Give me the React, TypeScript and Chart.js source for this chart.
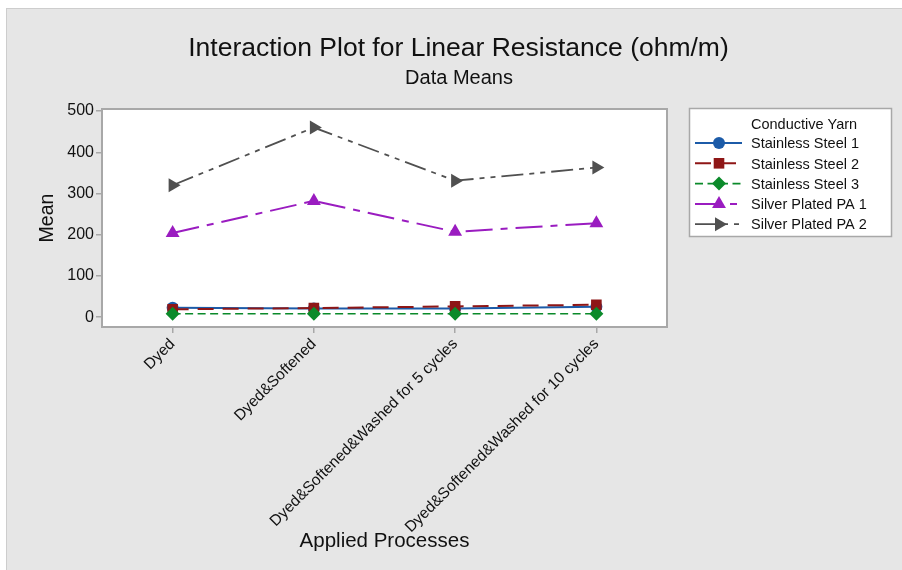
import { useEffect, useRef } from 'react';
import { Chart, registerables } from 'chart.js';
import { drawPoint } from 'chart.js/helpers';

Chart.register(...registerables);

// ---- data ----
const categories = [
  'Dyed',
  'Dyed&Softened',
  'Dyed&Softened&Washed for 5 cycles',
  'Dyed&Softened&Washed for 10 cycles',
];
const seriesNames = [
  'Stainless Steel 1',
  'Stainless Steel 2',
  'Stainless Steel 3',
  'Silver Plated PA 1',
  'Silver Plated PA 2',
];
const stainlessSteel1 = [23, 21, 21, 25];
const stainlessSteel2 = [19, 22, 26, 30];
const stainlessSteel3 = [8, 8, 8, 8];
const silverPlatedPA1 = [204, 282, 207, 228];
const silverPlatedPA2 = [320, 460, 331, 363];
const yTicks = [0, 100, 200, 300, 400, 500];

const titleText = 'Interaction Plot for Linear Resistance (ohm/m)';
const subtitleText = 'Data Means';
const xTitle = 'Applied Processes';
const yTitle = 'Mean';
const legendTitle = 'Conductive Yarn';

const FONT = '"Liberation Sans", Arial, sans-serif';

const PLOT = { left: 102, top: 109, right: 667, bottom: 327 };

const decorPlugin = {
  id: 'decor',
  beforeDraw(chart: any) {
    const ctx = chart.ctx;
    const W = chart.width;
    const H = chart.height;
    ctx.save();
    ctx.fillStyle = '#ffffff';
    ctx.fillRect(0, 0, W, H);
    ctx.fillStyle = '#e6e6e6';
    ctx.fillRect(6, 8, W - 6, H - 8);
    ctx.strokeStyle = '#cdcdcd';
    ctx.lineWidth = 1;
    ctx.strokeRect(6.5, 8.5, W, H);
    const a = chart.chartArea;
    ctx.fillStyle = '#ffffff';
    ctx.fillRect(a.left, a.top, a.right - a.left, a.bottom - a.top);
    ctx.restore();
  },
  afterDraw(chart: any) {
    const ctx = chart.ctx;
    const a = chart.chartArea;
    ctx.save();
    // plot frame
    ctx.strokeStyle = '#a8a8a8';
    ctx.lineWidth = 2;
    ctx.strokeRect(a.left, a.top, a.right - a.left, a.bottom - a.top);

    // titles
    ctx.fillStyle = '#111111';
    ctx.textAlign = 'center';
    ctx.textBaseline = 'alphabetic';
    ctx.font = `26.5px ${FONT}`;
    ctx.fillText(titleText, 458.5, 56);
    ctx.font = `20px ${FONT}`;
    ctx.fillText(subtitleText, 459, 84);

    // axis titles
    ctx.font = `20.5px ${FONT}`;
    ctx.fillText(xTitle, (a.left + a.right) / 2, 547);
    ctx.save();
    ctx.translate(53, (a.top + a.bottom) / 2);
    ctx.rotate(-Math.PI / 2);
    ctx.font = `19.5px ${FONT}`;
    ctx.fillText(yTitle, 0, 0);
    ctx.restore();

    // legend
    const lx = 689.5, ly = 108.5, lw = 202, lh = 128;
    ctx.fillStyle = '#ffffff';
    ctx.fillRect(lx, ly, lw, lh);
    ctx.strokeStyle = '#a8a8a8';
    ctx.lineWidth = 1.5;
    ctx.strokeRect(lx, ly, lw, lh);
    ctx.textAlign = 'left';
    ctx.font = `14.5px ${FONT}`;
    ctx.fillStyle = '#111111';
    ctx.fillText(legendTitle, 751, 129);
    chart.data.datasets.forEach((ds: any, i: number) => {
      const y = 143 + i * 20.3;
      ctx.save();
      ctx.strokeStyle = ds.borderColor;
      ctx.lineWidth = ds.borderWidth;
      ctx.setLineDash(ds.borderDash || []);
      ctx.beginPath();
      ctx.moveTo(695, y);
      ctx.lineTo(742, y);
      ctx.stroke();
      ctx.restore();
      ctx.save();
      ctx.fillStyle = ds.pointBackgroundColor;
      ctx.strokeStyle = ds.pointBackgroundColor;
      drawPoint(ctx, {
        pointStyle: ds.pointStyle,
        rotation: ds.pointRotation || 0,
        radius: ds.pointRadius,
        borderWidth: 0,
      } as any, 719, y);
      ctx.restore();
      ctx.fillStyle = '#111111';
      ctx.fillText(ds.label, 751, y + 5.2);
    });
    ctx.restore();
  },
};

const mk = (label: string, data: number[], color: string, style: string, radius: number, dash: number[], width: number, order: number, rotation = 0) => ({
  label,
  data,
  borderColor: color,
  backgroundColor: color,
  pointBackgroundColor: color,
  pointBorderColor: color,
  pointBorderWidth: 0,
  pointStyle: style,
  pointRadius: radius,
  pointRotation: rotation,
  borderWidth: width,
  borderDash: dash,
  tension: 0,
  fill: false,
  order,
});

export default function App() {
  const ref = useRef<HTMLCanvasElement | null>(null);
  useEffect(() => {
    if (!ref.current) return;
    const chart = new Chart(ref.current, {
      type: 'line',
      data: {
        labels: categories,
        datasets: [
          mk(seriesNames[0], stainlessSteel1, '#1c5ba8', 'circle', 6, [], 2, 4),
          mk(seriesNames[1], stainlessSteel2, '#8e1616', 'rect', 7.5, [16, 9], 2, 3),
          mk(seriesNames[2], stainlessSteel3, '#0b8a2a', 'rectRot', 7, [8, 4.5], 1.6, 2),
          mk(seriesNames[3], silverPlatedPA1, '#9a1cc0', 'triangle', 8, [27, 8, 7, 8], 2, 1),
          mk(seriesNames[4], silverPlatedPA2, '#505050', 'triangle', 8, [22, 6, 5, 6, 5, 6], 1.8, 0, 90),
        ] as any,
      },
      options: {
        responsive: false,
        animation: false,
        events: [],
        layout: { padding: { left: 0, top: PLOT.top, right: 902 - PLOT.right, bottom: 0 } },
        plugins: {
          legend: { display: false },
          title: { display: false },
          tooltip: { enabled: false },
        },
        scales: {
          x: {
            type: 'category',
            offset: true,
            afterFit: (s: any) => { s.height = 570 - PLOT.bottom; },
            grid: { display: true, drawOnChartArea: false, drawTicks: true, tickLength: 6, color: '#a8a8a8', lineWidth: 1.5 },
            border: { display: false },
            ticks: {
              minRotation: 45,
              maxRotation: 45,
              autoSkip: false,
              padding: 2,
              color: '#111111',
              font: { family: FONT, size: 15.5 },
            },
          },
          y: {
            type: 'linear',
            min: -24,
            max: 505,
            afterFit: (s: any) => { s.width = PLOT.left; },
            afterBuildTicks: (s: any) => { s.ticks = yTicks.map((v) => ({ value: v })); },
            grid: { display: true, drawOnChartArea: false, drawTicks: true, tickLength: 6, color: '#a8a8a8', lineWidth: 1.5 },
            border: { display: false },
            ticks: {
              padding: 2,
              color: '#111111',
              font: { family: FONT, size: 16 },
            },
          },
        },
      } as any,
      plugins: [decorPlugin],
    });
    return () => chart.destroy();
  }, []);
  return (
    <canvas
      ref={ref}
      width={902}
      height={570}
      style={{ position: 'absolute', left: 0, top: 0, width: 902, height: 570, display: 'block' }}
    />
  );
}
